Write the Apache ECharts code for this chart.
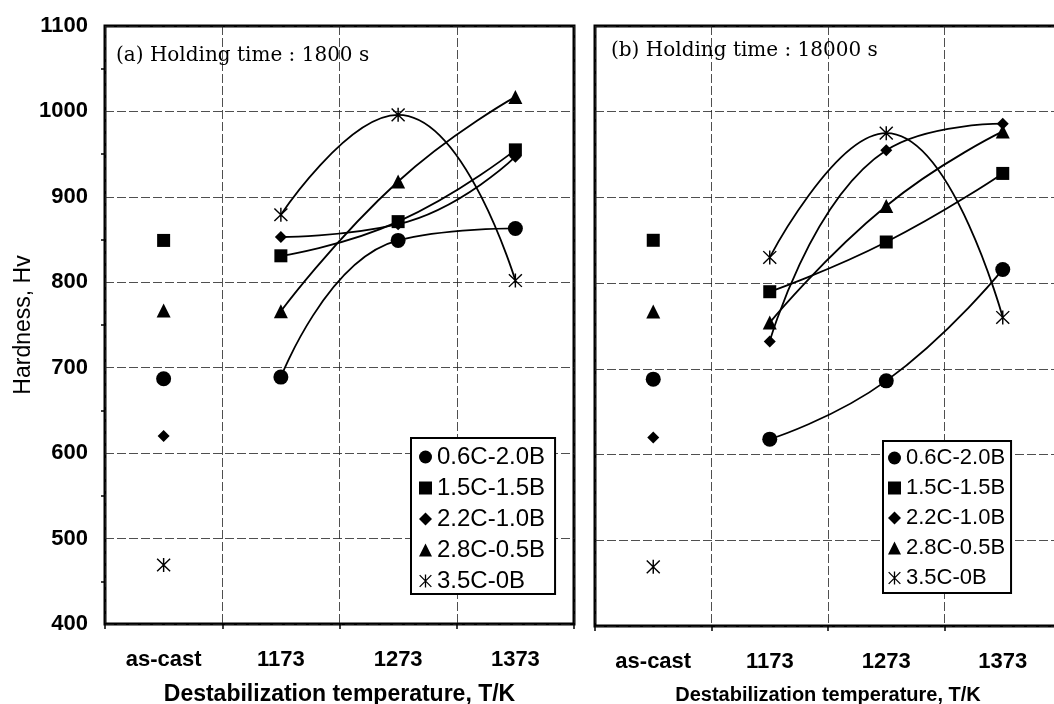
<!DOCTYPE html>
<html><head><meta charset="utf-8">
<script src="https://cdn.jsdelivr.net/npm/echarts@6/dist/echarts.min.js"></script>
<style>html,body{margin:0;padding:0;background:#fff}#c{width:1054px;height:704px}</style>
</head><body><div id="c"></div>
<script>
// ---- data ----
const categories = ['as-cast', '1173', '1273', '1373'];
const seriesNames = ['0.6C-2.0B', '1.5C-1.5B', '2.2C-1.0B', '2.8C-0.5B', '3.5C-0B'];
const panelTitles = ['(a) Holding time : 1800 s', '(b) Holding time : 18000 s'];
// Panel (a) holding time 1800 s : [as-cast, 1173, 1273, 1373]
const a_06C_20B = [687, 689, 849, 863];
const a_15C_15B = [849, 831, 871, 955];
const a_22C_10B = [620, 853, 868, 947];
const a_28C_05B = [767, 766, 918, 1017];
const a_35C_0B  = [469, 879, 996, 802];
// Panel (b) holding time 18000 s
const b_06C_20B = [688, 618, 686, 816];
const b_15C_15B = [850, 790, 848, 928];
const b_22C_10B = [620, 732, 955, 986];
const b_28C_05B = [767, 754, 890, 977];
const b_35C_0B  = [469, 830, 975, 760];

const panelA = [a_06C_20B, a_15C_15B, a_22C_10B, a_28C_05B, a_35C_0B];
const panelB = [b_06C_20B, b_15C_15B, b_22C_10B, b_28C_05B, b_35C_0B];

const STAR = 'path://M9,0L11,0L11,20L9,20Z M1.7,0.3L19.7,18.3L18.3,19.7L0.3,1.7Z M18.3,0.3L19.7,1.7L1.7,19.7L0.3,18.3Z';
const symbols = ['circle', 'rect', 'diamond', 'triangle', STAR];
const symSizes = [15, 13, 12, 14, 14];

const SANS = "'Liberation Sans', Arial, sans-serif";
const SERIF = "'DejaVu Serif', 'Liberation Serif', serif";

const series = [];
[panelA, panelB].forEach((panel, p) => {
  panel.forEach((vals, i) => {
    series.push({
      name: seriesNames[i], type: 'line', xAxisIndex: p, yAxisIndex: p,
      smooth: 0.5, symbol: symbols[i], symbolSize: symSizes[i],
      data: ['-', vals[1], vals[2], vals[3]],
      itemStyle: {color: '#000', opacity: 1}, lineStyle: {color: '#000', width: 1.8},
      z: 3, animation: false
    });
    series.push({
      name: seriesNames[i], type: 'scatter', xAxisIndex: p, yAxisIndex: p,
      symbol: symbols[i], symbolSize: symSizes[i],
      data: [vals[0], '-', '-', '-'],
      itemStyle: {color: '#000', opacity: 1}, z: 3, animation: false
    });
  });
});

const legendData = seriesNames.map((n, i) => ({name: n, icon: symbols[i]}));
function mkLegend(left, top, fs, pad, gap) {
  return {
    left: left, top: top, orient: 'vertical', data: legendData,
    borderColor: '#000', borderWidth: 2, backgroundColor: '#fff',
    padding: pad, itemGap: gap, itemWidth: 13, itemHeight: 13,
    selectedMode: false, z: 10,
    itemStyle: {color: '#000', opacity: 1},
    textStyle: {fontSize: fs, fontFamily: SANS, color: '#000'}
  };
}

const splitStyle = {show: true, lineStyle: {color: '#222', width: 0.8, type: [9, 3]}};

function xAx(p, nameFs) {
  return {
    type: 'category', gridIndex: p, data: categories, boundaryGap: true,
    axisLine: {show: false}, axisTick: {show: true, length: 5, lineStyle: {color: '#000', width: 1.5}},
    axisLabel: {fontSize: 22, fontWeight: 'bold', fontFamily: SANS, color: '#000', margin: 25},
    splitLine: splitStyle,
    name: 'Destabilization temperature, T/K', nameLocation: 'middle', nameGap: 59,
    nameTextStyle: {fontSize: nameFs, fontWeight: 'bold', fontFamily: SANS, color: '#000'}
  };
}
function yAx(p) {
  const o = {
    type: 'value', gridIndex: p, min: 400, max: 1100, interval: 100,
    axisLine: {show: false}, axisTick: {show: false},
    minorTick: {show: p === 0, splitNumber: 2, length: 4, lineStyle: {color: '#000', width: 1.5}},
    axisLabel: {show: p === 0, fontSize: 22, fontWeight: 'bold', fontFamily: SANS, color: '#000', margin: 17,
                formatter: v => String(v)},
    splitLine: splitStyle
  };
  if (p === 0) {
    o.name = 'Hardness, Hv'; o.nameLocation = 'middle'; o.nameGap = 66;
    o.nameTextStyle = {fontSize: 23, fontFamily: SANS, color: '#000'};
  }
  return o;
}

const option = {
  backgroundColor: '#fff',
  animation: false,
  title: [
    {text: panelTitles[0], left: 116, top: 46, padding: 0,
     textStyle: {fontFamily: SERIF, fontSize: 20, fontWeight: 'normal', color: '#000'}},
    {text: panelTitles[1], left: 611, top: 41, padding: 0,
     textStyle: {fontFamily: SERIF, fontSize: 20, fontWeight: 'normal', color: '#000'}}
  ],
  grid: [
    {left: 105, top: 26, width: 469, height: 598, show: true, borderColor: '#000', borderWidth: 3,
     containLabel: false, outerBoundsMode: 'none'},
    {left: 595, top: 26, width: 466, height: 600, show: true, borderColor: '#000', borderWidth: 3,
     containLabel: false, outerBoundsMode: 'none'}
  ],
  xAxis: [xAx(0, 23), xAx(1, 20)],
  yAxis: [yAx(0), yAx(1)],
  legend: [mkLegend(411, 438, 24, [7, 10, 1, 8], 7), mkLegend(883, 441, 22, [6, 6, 4, 5], 8)],
  series: series
};
const chart = echarts.init(document.getElementById('c'), null, {renderer: 'canvas'});
chart.setOption(option);
</script></body></html>
